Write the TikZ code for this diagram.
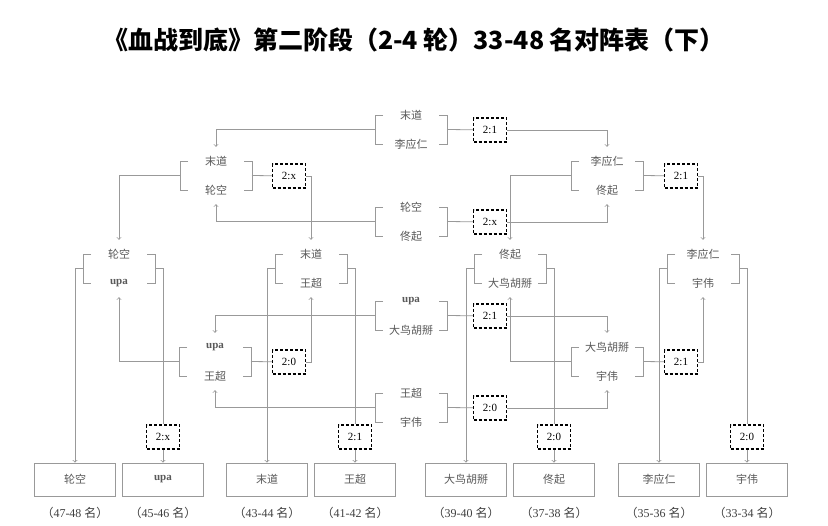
\documentclass[tikz,border=0pt]{standalone}
\usepackage{fontspec}
\setmainfont{Liberation Serif}
\newfontfamily\cjk{Noto Sans CJK SC}
\usetikzlibrary{arrows}
\definecolor{linegray}{gray}{0.6}
\definecolor{textgray}{gray}{0.35}

\newcommand{\duel}[5]{%
\node[who] (#1a) at (#2,#3) {#4};
\node[who] (#1b) at (#2,#3+29) {#5};
\coordinate (#1l) at (#2-36,#3+14.5);
\coordinate (#1r) at (#2+36,#3+14.5);
\draw[bline] (#2-28,#3) -- (#2-36,#3) -- (#2-36,#3+29) -- (#2-28,#3+29);
\draw[bline] (#2+28,#3) -- (#2+36,#3) -- (#2+36,#3+29) -- (#2+28,#3+29);
}

\begin{document}
\begin{tikzpicture}[x=1pt, y=-1pt, >=to,
  who/.style={font=\cjk\fontsize{11}{13}\selectfont, text=textgray, minimum height=28pt, inner sep=0pt},
  bline/.style={draw=linegray, line width=0.8pt},
  score/.style={draw=black, dash pattern=on 3pt off 2pt, line width=1.2pt, minimum width=33pt, minimum height=24pt, inner sep=0pt, font=\fontsize{11}{13}\selectfont},
  rank/.style={draw=linegray, line width=0.8pt, minimum width=81pt, minimum height=33pt, inner sep=0pt, text=textgray, font=\cjk\fontsize{11}{13}\selectfont}]
\fill[white] (0,0) rectangle (828,526);
\useasboundingbox (0,0) rectangle (828,526);

\node (title) at (414,40) {\cjk\bfseries\fontsize{25}{28}\selectfont 《血战到底》第二阶段（2-4 轮）33-48 名对阵表（下）};

\duel{top1}{411}{115}{末道}{李应仁}
\duel{left1}{216}{161}{末道}{轮空}
\duel{right1}{607}{161}{李应仁}{佟起}
\duel{mid1}{411}{207}{轮空}{佟起}
\duel{qa}{119}{254}{轮空}{\normalfont\bfseries upa}
\duel{qb}{311}{254}{末道}{王超}
\duel{qc}{510}{254}{佟起}{大鸟胡掰}
\duel{qd}{703}{254}{李应仁}{宇伟}
\duel{mid2}{411}{301}{\normalfont\bfseries upa}{大鸟胡掰}
\duel{left2}{215}{347}{\normalfont\bfseries upa}{王超}
\duel{right2}{607}{347}{大鸟胡掰}{宇伟}
\duel{mid3}{411}{393}{王超}{宇伟}

\node[score] (stop1) at (490,130) {2:1};
\node[score] (sleft1) at (289,176) {2:x};
\node[score] (sright1) at (681,176) {2:1};
\node[score] (smid1) at (490,222) {2:x};
\node[score] (smid2) at (490,316) {2:1};
\node[score] (sleft2) at (289,362) {2:0};
\node[score] (sright2) at (681,362) {2:1};
\node[score] (smid3) at (490,408) {2:0};
\node[score] (sa) at (163,437) {2:x};
\node[score] (sb) at (355,437) {2:1};
\node[score] (sc) at (554,437) {2:0};
\node[score] (sd) at (747,437) {2:0};

\foreach \n/\x/\who/\place in {fa/75/轮空/47-48, fb/163/{\normalfont\bfseries upa}/45-46, fc/267/末道/43-44, fd/355/王超/41-42, fe/466/大鸟胡掰/39-40, ff/554/佟起/37-38, fg/659/李应仁/35-36, fh/747/宇伟/33-34}{
  \node[rank] (\n) at (\x,479.5) {\who};
  \node[text=black!75, font=\fontsize{12}{14}\selectfont] (\n-lab) at (\x,513) {{\cjk （}\place\ {\cjk 名）}};
}

\draw[bline] (top1r) -- (stop1);
\draw[bline] (left1r) -- (sleft1);
\draw[bline] (right1r) -- (sright1);
\draw[bline] (mid1r) -- (smid1);
\draw[bline] (mid2r) -- (smid2);
\draw[bline] (left2r) -- (sleft2);
\draw[bline] (right2r) -- (sright2);
\draw[bline] (mid3r) -- (smid3);

\draw[bline, ->] (top1l) -| (left1a);
\draw[bline, ->] (stop1) -| (right1a);
\draw[bline, ->] (mid1l) -| (left1b);
\draw[bline, ->] (smid1) -| (right1b);
\draw[bline, ->] (left1l) -| (qaa);
\draw[bline, ->] (sleft1) -| (qba);
\draw[bline, ->] (right1l) -| (qca);
\draw[bline, ->] (sright1) -| (qda);
\draw[bline, ->] (mid2l) -| (left2a);
\draw[bline, ->] (smid2) -| (right2a);
\draw[bline, ->] (left2l) -| (qab);
\draw[bline, ->] (sleft2) -| (qbb);
\draw[bline, ->] (right2l) -| (qcb);
\draw[bline, ->] (sright2) -| (qdb);
\draw[bline, ->] (mid3l) -| (left2b);
\draw[bline, ->] (smid3) -| (right2b);

\draw[bline, ->] (qal) -| (fa);
\draw[bline] (qar) -| (sa);
\draw[bline, ->] (sa) -- (fb);
\draw[bline, ->] (qbl) -| (fc);
\draw[bline] (qbr) -| (sb);
\draw[bline, ->] (sb) -- (fd);
\draw[bline, ->] (qcl) -| (fe);
\draw[bline] (qcr) -| (sc);
\draw[bline, ->] (sc) -- (ff);
\draw[bline, ->] (qdl) -| (fg);
\draw[bline] (qdr) -| (sd);
\draw[bline, ->] (sd) -- (fh);
\end{tikzpicture}
\end{document}
